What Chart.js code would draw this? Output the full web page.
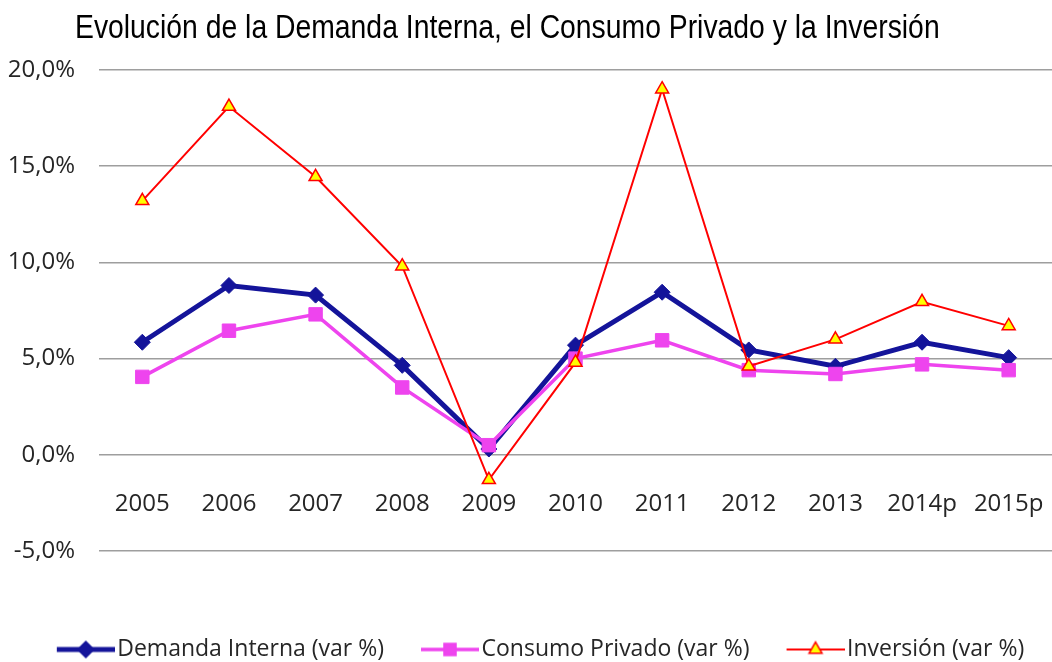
<!DOCTYPE html>
<html>
<head>
<meta charset="utf-8">
<script src="https://cdn.jsdelivr.net/npm/chart.js@4.4.1/dist/chart.umd.min.js"></script>
<style>
    html, body { margin: 0; padding: 0; background: #fff; }
    #wrap { position: relative; width: 1052px; height: 662px; }
    #titulo {
        position: absolute; left: 75px; top: 9px;
        font: 34px/34px "Liberation Sans", Arial, sans-serif;
        color: #000; white-space: nowrap; transform-origin: 0 0;
    }
</style>
</head>
<body>
<div id="wrap">
    <canvas id="grafico" width="1052" height="662"></canvas>
    <div id="titulo">Evolución de la Demanda Interna, el Consumo Privado y la Inversión</div>
</div>
<script>
const anios = ["2005", "2006", "2007", "2008", "2009", "2010", "2011", "2012", "2013", "2014p", "2015p"];
const demandaInterna = [5.85, 8.8, 8.3, 4.65, 0.3, 5.7, 8.45, 5.45, 4.6, 5.85, 5.05];
const consumoPrivado = [4.05, 6.45, 7.3, 3.5, 0.5, 5.0, 5.95, 4.4, 4.2, 4.7, 4.4];
const inversion = [13.2, 18.1, 14.45, 9.8, -1.3, 4.8, 19.0, 4.6, 6.0, 7.95, 6.7];
const ejeYMin = -5;
const ejeYMax = 20;
const ejeYPaso = 5;

// titulo estrecho (tipo Arial Narrow)
const titulo = document.getElementById("titulo");
titulo.style.transform = "scaleX(" + (865 / titulo.offsetWidth) + ")";

const fuente = '"Open Sans", "DejaVu Sans", sans-serif';

// muestra de la leyenda: linea + marcador
function muestra(estilo, color, relleno, grosor, radio) {
    const c = document.createElement("canvas");
    c.width = 84;
    c.height = 24;
    const ctx = c.getContext("2d");
    ctx.strokeStyle = color;
    ctx.lineWidth = grosor;
    ctx.beginPath();
    ctx.moveTo(26, 12);
    ctx.lineTo(84, 12);
    ctx.stroke();
    ctx.fillStyle = relleno;
    ctx.strokeStyle = color;
    ctx.lineWidth = 1.5;
    Chart.helpers.drawPoint(ctx, { pointStyle: estilo, radius: radio, rotation: 0, borderWidth: 1.5 }, 55, 12);
    return c;
}

const series = [
    { label: "Demanda Interna (var %)", data: demandaInterna, color: "#14149a", relleno: "#14149a", estilo: "rectRot", grosor: 5, radio: 8, orden: 3 },
    { label: "Consumo Privado (var %)", data: consumoPrivado, color: "#ee44ee", relleno: "#ee44ee", estilo: "rect", grosor: 3.5, radio: 9.5, orden: 2 },
    { label: "Inversión (var %)", data: inversion, color: "#ff0000", relleno: "#ffff00", estilo: "triangle", grosor: 2, radio: 7.5, orden: 1 },
];

const grafico = new Chart(document.getElementById("grafico"), {
    type: "line",
    data: {
        labels: anios,
        datasets: series.map((s) => ({
            label: s.label,
            data: s.data,
            borderColor: s.color,
            backgroundColor: s.relleno,
            borderWidth: s.grosor,
            pointStyle: s.estilo,
            pointRadius: s.radio,
            pointBackgroundColor: s.relleno,
            pointBorderColor: s.color,
            pointBorderWidth: s.estilo === "triangle" ? 1.5 : 1,
            tension: 0,
            order: s.orden,
        })),
    },
    options: {
        responsive: false,
        animation: false,
        layout: { autoPadding: false, padding: { top: 70, left: 8, right: -4, bottom: -9 } },
        scales: {
            x: {
                axis: "x",
                position: { y: 0 },
                offset: true,
                grid: { display: false },
                border: { display: false },
                afterFit: (eje) => {
                    eje.paddingLeft = 0;
                    eje.paddingRight = 0;
                },
                ticks: {
                    padding: 27,
                    autoSkip: false,
                    maxRotation: 0,
                    color: "#262626",
                    font: { family: fuente, size: 24 },
                },
            },
            y: {
                min: ejeYMin,
                max: ejeYMax,
                grid: { color: "#9e9e9e", lineWidth: 1.5, drawTicks: false },
                border: { display: false },
                afterFit: (eje) => {
                    eje.width = 91;
                },
                ticks: {
                    stepSize: ejeYPaso,
                    padding: 24,
                    color: "#262626",
                    font: { family: fuente, size: 24 },
                    callback: (v) => v.toFixed(1).replace(".", ",") + "%",
                },
            },
        },
        plugins: {
            tooltip: { enabled: false },
            legend: {
                position: "bottom",
                title: { display: true, text: " ", color: "rgba(0,0,0,0)", font: { size: 10, lineHeight: 1 }, padding: { top: 0, bottom: 57 } },
                labels: {
                    usePointStyle: true,
                    pointStyleWidth: 66,
                    padding: 20,
                    color: "#262626",
                    font: { family: fuente, size: 23 },
                    generateLabels: () =>
                        series.map((s, i) => ({
                            text: s.label,
                            datasetIndex: i,
                            pointStyle: muestra(s.estilo, s.color, s.relleno, s.grosor, s.estilo === "rect" ? 8.5 : s.radio),
                            fillStyle: s.relleno,
                            strokeStyle: s.color,
                            lineWidth: 0,
                            fontColor: "#262626",
                        })),
                },
            },
        },
    },
});
</script>
</body>
</html>
